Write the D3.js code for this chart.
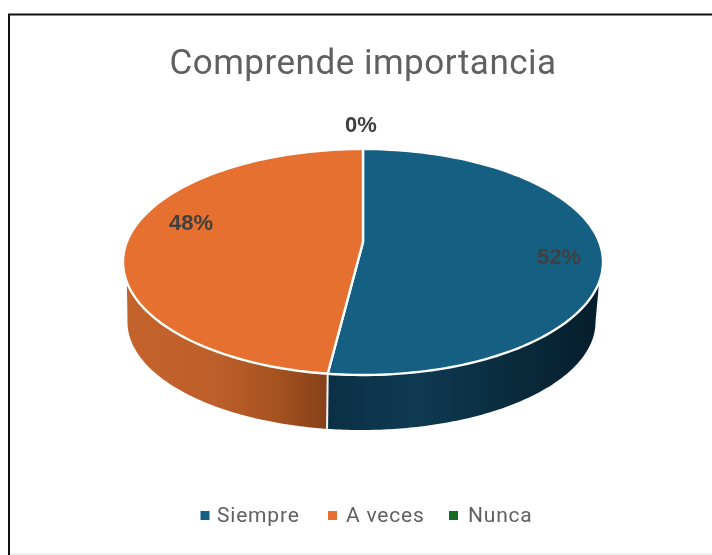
<!DOCTYPE html>
<html><head><meta charset="utf-8">
<script src="https://cdnjs.cloudflare.com/ajax/libs/d3/7.8.5/d3.min.js"></script>
<style>html,body{margin:0;padding:0;background:#fff}svg{display:block;filter:blur(0.45px)}</style></head>
<body><svg id="c" width="712" height="555"></svg>
<script>
const titleText = "Comprende importancia";
const categories = ["Siempre", "A veces", "Nunca"];
const values = [52.35, 47.65, 0];
const percentLabels = ["52%", "48%", "0%"];
const colors = ["#156082", "#E6702F", "#196B24"];

const svg = d3.select("#c");
const W = 712, H = 555;
svg.append("rect").attr("x", 9).attr("y", 14.5).attr("width", 720).attr("height", 539.5)
  .attr("fill", "#fff").attr("stroke", "#111").attr("stroke-width", 2);
svg.append("line").attr("x1", 10).attr("x2", W).attr("y1", 554).attr("y2", 554).attr("stroke", "#fff").attr("stroke-width", 2);
svg.append("line").attr("x1", 10).attr("x2", W).attr("y1", 554).attr("y2", 554).attr("stroke", "#e2e2e2").attr("stroke-width", 1);

const defs = svg.append("defs");
function grad(id, x1, x2, stops) {
  const g = defs.append("linearGradient").attr("id", id).attr("gradientUnits", "userSpaceOnUse")
    .attr("x1", x1).attr("x2", x2).attr("y1", 0).attr("y2", 0);
  stops.forEach(s => g.append("stop").attr("offset", s[0]).attr("stop-color", s[1]));
}
grad("wallOrange", 124, 328, [[0, "#c4632c"], [0.45, "#bd5f2a"], [0.75, "#a5521f"], [1, "#85401a"]]);
grad("wallBlue", 328, 603, [[0, "#0b2f44"], [0.3, "#0e3a52"], [0.6, "#0b2e41"], [1, "#051d2b"]]);

const face = {cx: 363, cy: 262, rx: 240, ry: 113}, base = {cx: 361.5, cy: 322, rx: 234, ry: 108};
const hubX = 363, hubY = 242;
const pie = d3.pie().value(d => d).sort(null);
const arcs = pie(values);
const pt = (e, t) => [e.cx + e.rx * Math.sin(t), e.cy - e.ry * Math.cos(t)];
const steps = d3.range(0, 1.0001, 1 / 120);
const lineGen = d3.line();
const sample = (e, a, b) => steps.map(s => pt(e, a + (b - a) * s));

// side walls, front half only
const wallFills = ["url(#wallBlue)", "url(#wallOrange)", "none"];
const rimClip = 0.18;
arcs.forEach((d, i) => {
  const a = Math.max(d.startAngle, Math.PI / 2 + rimClip), b = Math.min(d.endAngle, 3 * Math.PI / 2 - rimClip);
  const a2 = Math.max(d.startAngle, Math.PI / 2), b2 = Math.min(d.endAngle, 3 * Math.PI / 2);
  if (b <= a) return;
  const poly = sample(face, a, b).concat(sample(base, a2, b2).reverse());
  svg.append("path").attr("d", lineGen(poly) + "Z").attr("fill", wallFills[i]);
});
// white seam between walls
const seam = arcs[0].endAngle;
svg.append("path").attr("d", lineGen([pt(face, seam), pt(base, seam)]))
  .attr("stroke", "#f4f4f4").attr("stroke-width", 2).attr("fill", "none");

// top faces
arcs.forEach((d, i) => {
  if (d.endAngle - d.startAngle <= 0) return;
  const poly = [[hubX, hubY]].concat(sample(face, d.startAngle, d.endAngle));
  svg.append("path").attr("d", lineGen(poly) + "Z").attr("fill", colors[i])
    .attr("stroke", "#fff").attr("stroke-width", 2.4).attr("stroke-linejoin", "round");
});

// data labels
const labelPos = [[559, 256], [191, 222], [361, 124]];
percentLabels.forEach((t, i) => {
  svg.append("text").attr("x", labelPos[i][0]).attr("y", labelPos[i][1]).attr("dy", "0.36em")
    .attr("text-anchor", "middle").attr("font-family", "Liberation Sans").attr("font-weight", "bold")
    .attr("font-size", 22).attr("fill", "#404040").text(t);
});

// title
svg.append("text").attr("x", 363).attr("y", 74).attr("text-anchor", "middle")
  .attr("font-family", "Roboto").attr("font-size", 35).attr("letter-spacing", 0.5)
  .attr("fill", "#606060").text(titleText);

// legend
const legX = [200.5, 328, 449];
const legTextX = [217, 346, 468];
categories.forEach((c, i) => {
  svg.append("rect").attr("x", legX[i]).attr("y", 511).attr("width", 9).attr("height", 9).attr("fill", colors[i]);
  svg.append("text").attr("x", legTextX[i]).attr("y", 522).attr("font-family", "Roboto")
    .attr("font-size", 21).attr("letter-spacing", 0.8).attr("fill", "#606060").text(c);
});
</script></body></html>
